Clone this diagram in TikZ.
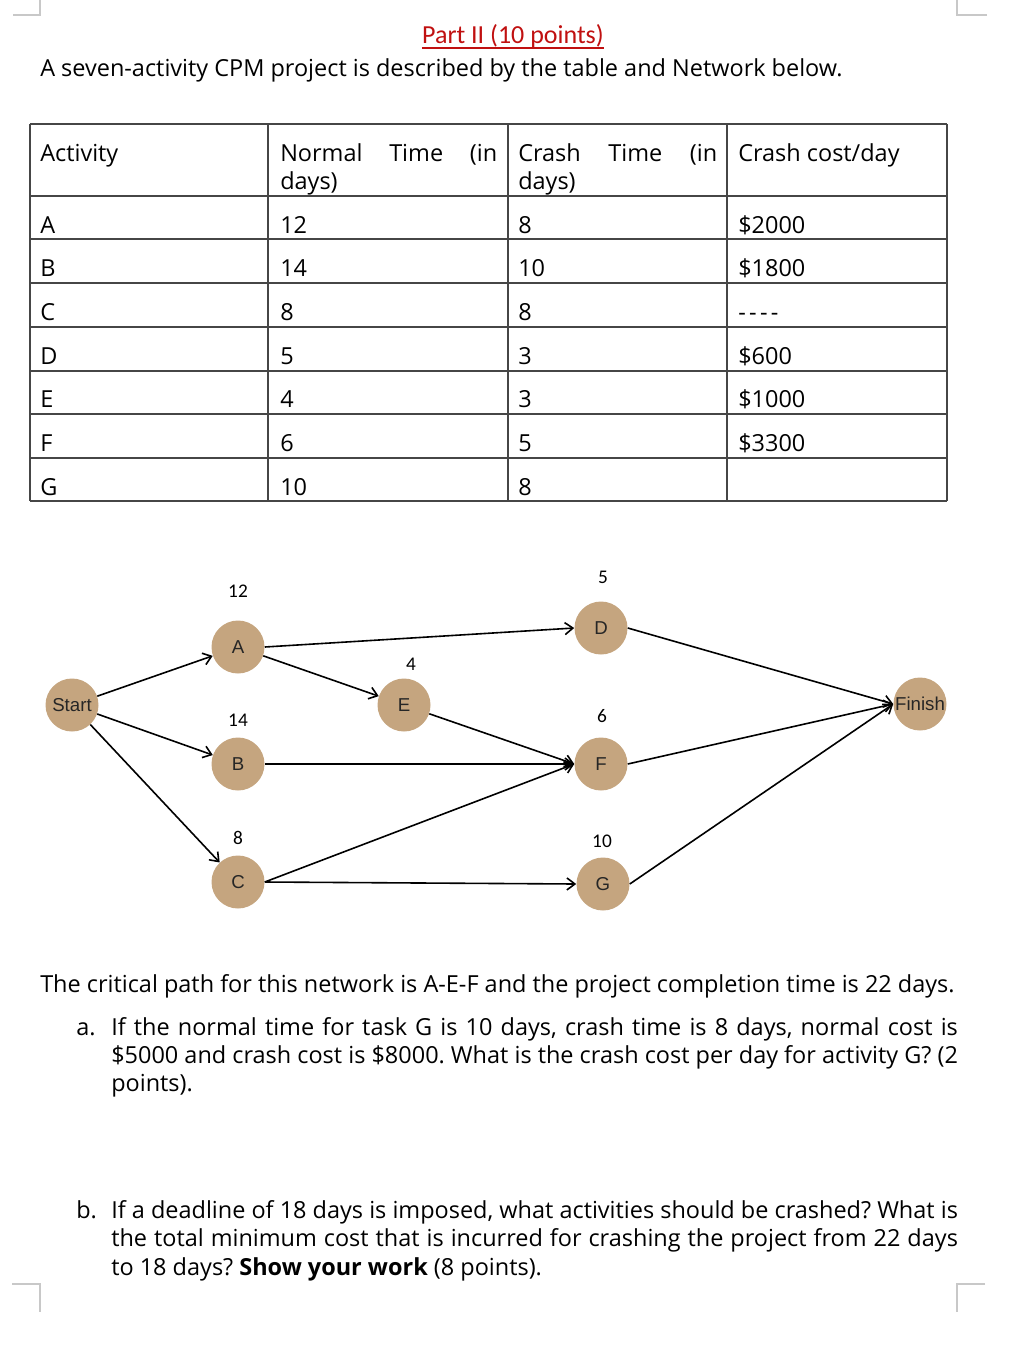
\documentclass[tikz,border=0pt]{standalone}
\usepackage{fontspec}
\setmainfont{Open Sans}
\newfontfamily\arialfont{Liberation Sans}
\newfontfamily\calfont{Carlito}
\usetikzlibrary{arrows.meta}
\frenchspacing

\definecolor{nodetan}{RGB}{197,165,127}
\definecolor{titlered}{RGB}{192,16,16}
\definecolor{markgray}{RGB}{200,200,200}
\definecolor{rulegray}{RGB}{70,70,70}

% stretch a line of text to a given width
\newcommand{\fillline}[2]{\makebox[#1][s]{#2}}

\tikzset{
  event/.style={circle, fill=nodetan, minimum size=39.75pt, inner sep=0pt,
    text=black!85, font=\arialfont\fontsize{14}{14}\selectfont},
  dur/.style={font=\calfont\fontsize{14.5}{15}\selectfont},
  link/.style={line width=1.2pt, -{Straight Barb[length=6pt,width=9pt]}},
  body/.style={anchor=base west, inner sep=0pt, font=\fontsize{17.6}{19}\selectfont},
  corner/.style={markgray, line width=1.1pt},
}

\begin{document}
\begin{tikzpicture}[x=0.75pt,y=-0.75pt]
\useasboundingbox (0,0) rectangle (1010,1354);

% page corner marks
\draw[corner] (13,15) -- (40,15) -- (40,0);
\draw[corner] (987,15) -- (957,15) -- (957,0);
\draw[corner] (12,1284) -- (40,1284) -- (40,1312);
\draw[corner] (985,1284) -- (957,1284) -- (957,1312);

% heading
\node[anchor=base, inner sep=0pt, text=titlered, font=\calfont\fontsize{19.5}{20}\selectfont] (title) at (513,43) {Part II (10 points)};
\draw[titlered, line width=0.9pt] (title.south west |- 0,48) -- (title.south east |- 0,48);
\node[body] (intro) at (40,76) {A seven-activity CPM project is described by the table and Network below.};

% table
\foreach \y in {124,196,239,283,327,371,414,458,501}
  \draw[rulegray, line width=0.8pt] (30,\y) -- (947,\y);
\foreach \x in {30,268,508,727,947}
  \draw[rulegray, line width=0.8pt] (\x,124) -- (\x,501);

\node[body] (hact) at (40,161) {Activity};
\node[body] (hnorm) at (280,161) {\fillline{162.75pt}{Normal Time (in}};
\node[body] at (280,189) {days)};
\node[body] (hcrash) at (518,161) {\fillline{149.25pt}{Crash Time (in}};
\node[body] at (518,189) {days)};
\node[body] (hcost) at (738,161) {Crash cost/day};

\foreach \act/\nt/\ct/\cc [count=\i] in {A/12/8/\$2000, B/14/10/\$1800, C/8/8/{-\kern2.5pt-\kern2.5pt-\kern2.5pt-}, D/5/3/\$600, E/4/3/\$1000, F/6/5/\$3300, G/10/8/{}} {
  \pgfmathsetmacro{\yb}{233+(\i-1)*43.7}
  \node[body] at (40,\yb) {\act};
  \node[body] at (280,\yb) {\nt};
  \node[body] at (518,\yb) {\ct};
  \node[body] at (738,\yb) {\cc};
}

% network
\node[event] (start) at (72,705) {Start};
\node[event] (A) at (238,647) {A};
\node[event] (B) at (238,764) {B};
\node[event] (C) at (238,882) {C};
\node[event] (E) at (404,705) {E};
\node[event] (D) at (601,628) {D};
\node[event] (F) at (601,764) {F};
\node[event] (G) at (603,884) {G};
\node[event] (finish) at (920,704) {Finish};

% durations
\foreach \n/\x/\y in {12/238/591, 14/238/720, 8/238/838, 4/411/664, 5/603/577, 6/602/716, 10/602/841}
  \node[dur] at (\x,\y) {\n};

\draw[link] (start) -- (A);
\draw[link] (start) -- (B);
\draw[link] (start) -- (C);
\draw[link] (A.east) -- (D.west);
\draw[link] (A) -- (E);
\draw[link] (E) -- (F.west);
\draw[link] (B.east) -- (F.west);
\draw[link] (C.east) -- (F.west);
\draw[link] (C.east) -- (G.west);
\draw[link] (D.east) -- (finish.west);
\draw[link] (F.east) -- (finish.west);
\draw[link] (G.east) -- (finish.west);

% questions
\node[body] (crit) at (40,992) {The critical path for this network is A-E-F and the project completion time is 22 days.};
\node[body] at (76,1035) {a.};
\node[body] at (111,1035) {\fillline{635pt}{If the normal time for task G is 10 days, crash time is 8 days, normal cost is}};
\node[body] at (111,1063) {\fillline{635pt}{\$5000 and crash cost is \$8000. What is the crash cost per day for activity G? (2}};
\node[body] at (111,1091) {points).};
\node[body] at (76,1218) {b.};
\node[body] at (111,1218) {\fillline{635pt}{If a deadline of 18 days is imposed, what activities should be crashed? What is}};
\node[body] at (111,1246) {\fillline{635pt}{the total minimum cost that is incurred for crashing the project from 22 days}};
\node[body] at (111,1275) {to 18 days? \textbf{Show your work} (8 points).};
\end{tikzpicture}
\end{document}
